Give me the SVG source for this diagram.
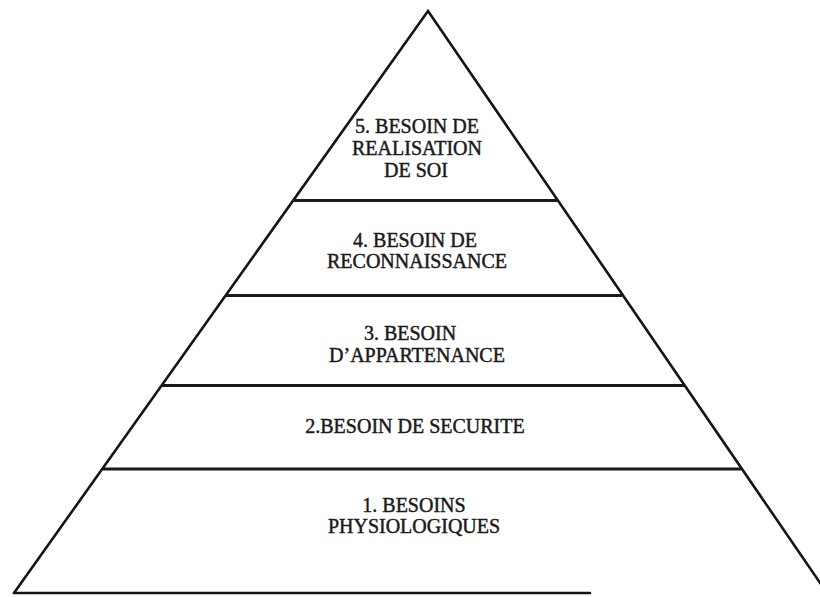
<svg xmlns="http://www.w3.org/2000/svg" width="820" height="597" viewBox="0 0 820 597">
<style>
.edge{stroke:#151515;stroke-width:2.6;fill:none;stroke-linecap:round;stroke-linejoin:miter}
.tier{stroke:#1a1a1a;stroke-width:3;fill:none}
.lbl{font-family:"Liberation Serif","Times New Roman",serif;font-size:20px;fill:#1a1a1a;stroke:#1a1a1a;stroke-width:0.45;text-anchor:middle}
</style>
<rect width="820" height="597" fill="#ffffff"/>
<g id="pyramid-outline">
<path class="edge" d="M14,593 L428,11 L827,593"/>
<line class="edge" x1="14" y1="593" x2="590" y2="593"/>
</g>
<g id="dividers">
<line class="tier" x1="293" y1="200.5" x2="557" y2="200.5"/>
<line class="tier" x1="226" y1="295.5" x2="622" y2="295.5"/>
<line class="tier" x1="162" y1="385.5" x2="684" y2="385.5"/>
<line class="tier" x1="103" y1="469" x2="741" y2="469"/>
</g>
<g id="tier5">
<text class="lbl" x="417" y="133">5. BESOIN DE</text>
<text class="lbl" x="417" y="155">REALISATION</text>
<text class="lbl" x="416" y="177">DE SOI</text>
</g>
<g id="tier4">
<text class="lbl" x="415" y="247">4. BESOIN DE</text>
<text class="lbl" x="417" y="268">RECONNAISSANCE</text>
</g>
<g id="tier3">
<text class="lbl" x="410" y="340">3. BESOIN</text>
<text class="lbl" x="417" y="362">D’APPARTENANCE</text>
</g>
<g id="tier2">
<text class="lbl" x="415" y="433">2.BESOIN DE SECURITE</text>
</g>
<g id="tier1">
<text class="lbl" x="414" y="512">1. BESOINS</text>
<text class="lbl" x="414" y="533">PHYSIOLOGIQUES</text>
</g>
</svg>
